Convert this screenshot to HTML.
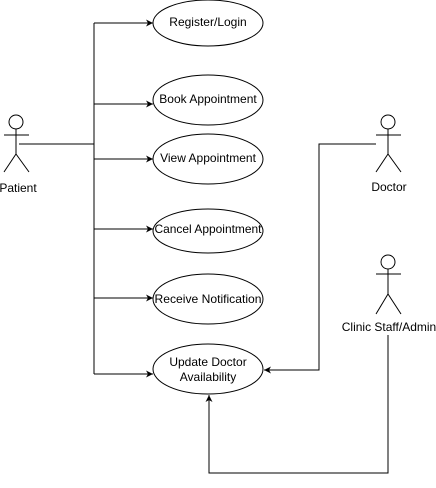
<!DOCTYPE html>
<html><head><style>body{margin:0;background:#fff}</style></head><body>
<svg width="436" height="483" xmlns="http://www.w3.org/2000/svg" font-family="Liberation Sans, Arial, sans-serif" font-size="12">
<defs><marker id="a" markerWidth="8" markerHeight="8" refX="7" refY="4" orient="auto" markerUnits="userSpaceOnUse"><path d="M0,0.5 L7,4 L0,7.5 L2,4 Z" fill="#000"/></marker></defs>
<g fill="none" stroke="#000" stroke-width="1">
<ellipse cx="208" cy="23" rx="55" ry="23" fill="#fff"/>
<ellipse cx="208" cy="100" rx="55" ry="25" fill="#fff"/>
<ellipse cx="208" cy="159" rx="55" ry="25" fill="#fff"/>
<ellipse cx="208" cy="231" rx="55" ry="22" fill="#fff"/>
<ellipse cx="208" cy="299" rx="55" ry="25" fill="#fff"/>
<ellipse cx="208" cy="369" rx="55" ry="25" fill="#fff"/>
<circle cx="16" cy="122" r="7"/><path d="M16,129V154M4,135H29M16,154L4,172M16,154L29,172"/>
<circle cx="388" cy="122" r="7"/><path d="M388,129V154M376,135H401M388,154L376,172M388,154L401,172"/>
<circle cx="388" cy="262" r="7"/><path d="M388,269V294M376,274H401M388,294L376,314M388,294L401,314"/>
<path d="M19,144H94M94,23V374"/>
<path d="M94,23H153" marker-end="url(#a)"/>
<path d="M94,104H153" marker-end="url(#a)"/>
<path d="M94,159H153" marker-end="url(#a)"/>
<path d="M94,229H153" marker-end="url(#a)"/>
<path d="M94,298H153" marker-end="url(#a)"/>
<path d="M94,374H153" marker-end="url(#a)"/>
<path d="M376,144H319V370H264" marker-end="url(#a)"/>
<path d="M388,335V473H209V395" marker-end="url(#a)"/>
</g>
<g text-anchor="middle" fill="#000">
<text x="208" y="26">Register/Login</text>
<text x="208" y="103">Book Appointment</text>
<text x="208" y="162">View Appointment</text>
<text x="208" y="233" textLength="107" lengthAdjust="spacingAndGlyphs">Cancel Appointment</text>
<text x="208" y="303" textLength="107" lengthAdjust="spacingAndGlyphs">Receive Notification</text>
<text x="208" y="366">Update Doctor</text>
<text x="208" y="381">Availability</text>
<text x="18" y="192">Patient</text>
<text x="389" y="191">Doctor</text>
<text x="389" y="331">Clinic Staff/Admin</text>
</g>
</svg>
</body></html>
